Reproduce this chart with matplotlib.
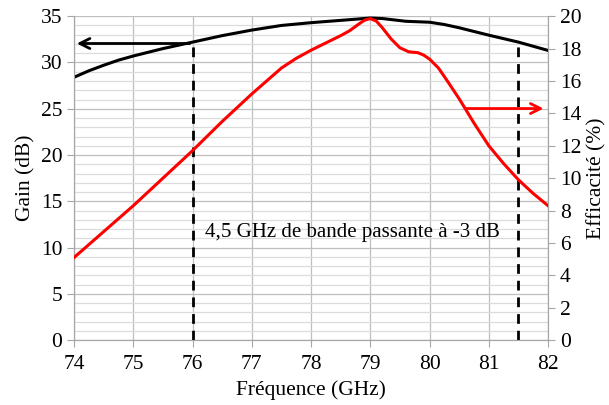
import matplotlib
matplotlib.use("Agg")
import matplotlib.pyplot as plt

plt.rcParams['font.family'] = ['Liberation Serif', 'DejaVu Serif']

# gain (dB), left axis
freq_gain = [74, 74.25, 74.5, 74.75, 75, 75.5, 76, 76.5, 77, 77.5, 78, 78.5, 78.8, 79, 79.2,
             79.4, 79.6, 79.8, 80, 80.25, 80.5, 80.75, 81, 81.5, 82]
gain = [28.4, 29.1, 29.7, 30.25, 30.7, 31.5, 32.2, 32.9, 33.5, 34.0, 34.3, 34.55, 34.7, 34.8, 34.75,
        34.6, 34.45, 34.4, 34.35, 34.1, 33.75, 33.35, 32.95, 32.2, 31.3]

# efficacite (%), right axis
freq_eff = [74, 74.5, 75, 75.5, 76, 76.5, 77, 77.5, 77.75, 78, 78.25, 78.5, 78.65, 78.8, 78.9, 79,
            79.1, 79.2, 79.35, 79.5, 79.65, 79.8, 79.9, 80, 80.15, 80.3, 80.5, 80.75, 81,
            81.25, 81.5, 81.75, 82]
eff = [5.1, 6.7, 8.3, 10.0, 11.7, 13.5, 15.2, 16.8, 17.4, 17.9, 18.35, 18.8, 19.1, 19.5, 19.75, 19.85,
       19.7, 19.3, 18.6, 18.05, 17.8, 17.75, 17.6, 17.35, 16.8, 16.0, 14.9, 13.4, 12.0,
       10.9, 9.9, 9.05, 8.3]

bande = [76, 81.5]       # limites -3 dB
gain_bande = [32.2, 32.2]
fleche_gain = 32.05
fleche_eff = 14.3

fig = plt.figure(figsize=(6.09, 4.05), dpi=100)
ax = fig.add_axes([0.1215, 0.16, 0.7785, 0.80])
ax2 = ax.twinx()

ax.set_xlim(74, 82)
ax.set_ylim(0, 35)
ax2.set_ylim(0, 20)
ax.set_xticks(range(74, 83))
ax.set_yticks(range(0, 36, 5))
ax.set_yticks(range(0, 36, 1), minor=True)
ax2.set_yticks(range(0, 21, 2))
ax.grid(True, which='major', color='#bfbfbf', lw=0.9)
ax.grid(True, which='minor', axis='y', color='#dcdcdc', lw=0.9)
ax.set_axisbelow(True)

fs = 15.5
for a in (ax, ax2):
    for s in a.spines.values():
        s.set_color('#a6a6a6')
    a.spines['top'].set_visible(False)
    a.tick_params(labelsize=fs, color='#a6a6a6', length=5)
    a.tick_params(which='minor', length=0)
ax.tick_params(axis='x', pad=6)

ax.plot(freq_gain, gain, color='black', lw=2.2, zorder=3)
ax2.plot(freq_eff, eff, color='red', lw=2.2, zorder=3)

for f, g in zip(bande, gain_bande):
    ax.plot([f, f], [0, g], color='black', ls='--', lw=2, dashes=(3.5, 2.5), zorder=4)

ax.annotate('', xy=(74.0, fleche_gain), xytext=(76, fleche_gain),
            arrowprops=dict(arrowstyle='->', color='black', lw=2, mutation_scale=18))
ax2.annotate('', xy=(81.97, fleche_eff), xytext=(80.57, fleche_eff),
             arrowprops=dict(arrowstyle='->', color='red', lw=2, mutation_scale=18))

ax.text(78.7, 11.6, '4,5 GHz de bande passante à -3 dB', fontsize=15,
        ha='center', va='center')

ax.set_xlabel('Fréquence (GHz)', fontsize=fs)
ax.set_ylabel('Gain (dB)', fontsize=fs)
ax2.set_ylabel('Efficacité (%)', fontsize=fs)

plt.savefig('out.png', dpi=100)
